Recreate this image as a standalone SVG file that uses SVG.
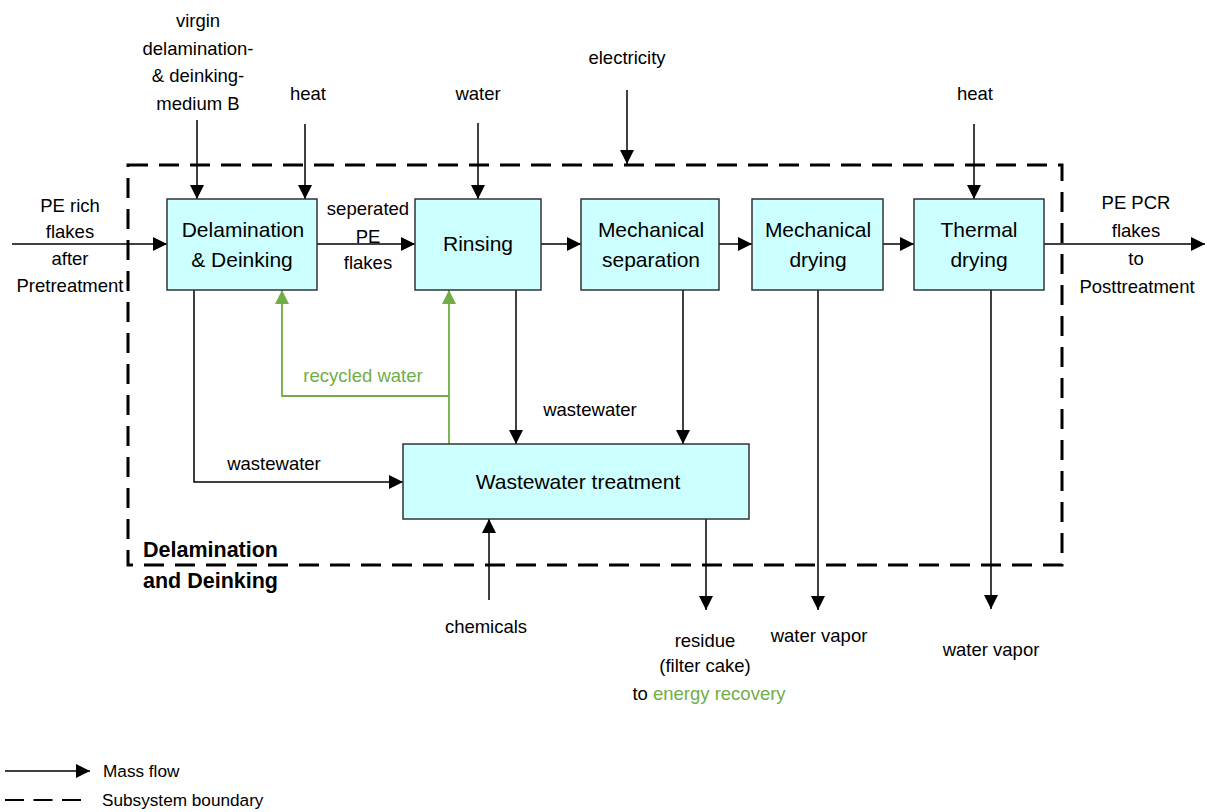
<svg xmlns="http://www.w3.org/2000/svg" width="1207" height="812" viewBox="0 0 1207 812">
<style>
text{font-family:"Liberation Sans",Arial,sans-serif;fill:#000}
.lbl{font-size:18.5px;text-anchor:middle}
.box{fill:#ccffff;stroke:#333;stroke-width:1.5}
.bt{font-size:21px;text-anchor:middle}
.flow{fill:none;stroke:#000;stroke-width:1.5;marker-end:url(#ah)}
.rec{fill:none;stroke:#71ad47;stroke-width:1.8;marker-end:url(#ahg)}
.bnd{fill:none;stroke:#000;stroke-width:3;stroke-dasharray:20 11}
.green{fill:#71ad47}
.bold{font-size:21.5px;font-weight:bold}
.leg{font-size:17.2px}
</style>
<defs>
<marker id="ah" markerUnits="userSpaceOnUse" markerWidth="15" markerHeight="15" refX="14" refY="7" orient="auto"><path d="M0,0 L14,7 L0,14 z" fill="#000"/></marker>
<marker id="ahg" markerUnits="userSpaceOnUse" markerWidth="15" markerHeight="15" refX="14" refY="7" orient="auto"><path d="M0,0 L14,7 L0,14 z" fill="#71ad47"/></marker>
</defs>
<rect width="1207" height="812" fill="#fff"/>
<rect class="bnd" x="128" y="165" width="934" height="400"/>
<g id="connectors">
<path class="flow" d="M12,244 H167"/>
<path class="flow" d="M317,244 H415"/>
<path class="flow" d="M541,244 H581"/>
<path class="flow" d="M719,244 H752"/>
<path class="flow" d="M883,244 H914"/>
<path class="flow" d="M1044,244 H1205"/>
<path class="flow" d="M197,120 V199"/>
<path class="flow" d="M305,124 V199"/>
<path class="flow" d="M478,123 V199"/>
<path class="flow" d="M627,90 V164"/>
<path class="flow" d="M974,124 V199"/>
<path class="flow" d="M194,290 V482 H403"/>
<path class="flow" d="M516,290 V444"/>
<path class="flow" d="M683,290 V444"/>
<path class="flow" d="M489,600 V519"/>
<path class="flow" d="M706,519 V610"/>
<path class="flow" d="M818,290 V610"/>
<path class="flow" d="M991,290 V609"/>
<path class="rec" d="M449,444 V290"/>
<path class="rec" d="M449,396 H282 V290"/>
</g>
<g id="n-delam"><rect class="box" x="167" y="199" width="150" height="91"/><text class="bt" x="243" y="237">Delamination</text><text class="bt" x="242" y="267">&amp; Deinking</text></g>
<g id="n-rinse"><rect class="box" x="415" y="199" width="126" height="91"/><text class="bt" x="478" y="251">Rinsing</text></g>
<g id="n-mechsep"><rect class="box" x="581" y="199" width="138" height="91"/><text class="bt" x="651" y="237">Mechanical</text><text class="bt" x="651" y="267">separation</text></g>
<g id="n-mechdry"><rect class="box" x="752" y="199" width="131" height="91"/><text class="bt" x="818" y="237">Mechanical</text><text class="bt" x="818" y="267">drying</text></g>
<g id="n-thermal"><rect class="box" x="914" y="199" width="130" height="91"/><text class="bt" x="979" y="237">Thermal</text><text class="bt" x="979" y="267">drying</text></g>
<g id="n-wwt"><rect class="box" x="403" y="444" width="346" height="75"/><text class="bt" x="578" y="489">Wastewater treatment</text></g>
<g id="labels">
<text class="lbl" x="198" y="27">virgin</text>
<text class="lbl" x="198" y="55">delamination-</text>
<text class="lbl" x="198" y="82">&amp; deinking-</text>
<text class="lbl" x="198" y="110">medium B</text>
<text class="lbl" x="308" y="100">heat</text>
<text class="lbl" x="478" y="100">water</text>
<text class="lbl" x="627" y="64">electricity</text>
<text class="lbl" x="975" y="100">heat</text>
<text class="lbl" x="70" y="212">PE rich</text>
<text class="lbl" x="70" y="238">flakes</text>
<text class="lbl" x="70" y="265">after</text>
<text class="lbl" x="70" y="292">Pretreatment</text>
<text class="lbl" x="368" y="215">seperated</text>
<text class="lbl" x="368" y="243">PE</text>
<text class="lbl" x="368" y="269">flakes</text>
<text class="lbl" x="1136" y="209">PE PCR</text>
<text class="lbl" x="1136" y="237">flakes</text>
<text class="lbl" x="1136" y="265">to</text>
<text class="lbl" x="1137" y="293">Posttreatment</text>
<text class="lbl green" x="363" y="382">recycled water</text>
<text class="lbl" x="590" y="416">wastewater</text>
<text class="lbl" x="274" y="470">wastewater</text>
<text class="bold" x="143" y="557">Delamination</text>
<text class="bold" x="143" y="588">and Deinking</text>
<text class="lbl" x="486" y="633">chemicals</text>
<text class="lbl" x="705" y="647">residue</text>
<text class="lbl" x="705" y="672">(filter cake)</text>
<text class="lbl" x="709" y="700">to <tspan class="green">energy recovery</tspan></text>
<text class="lbl" x="819" y="642">water vapor</text>
<text class="lbl" x="991" y="656">water vapor</text>
</g>
<g id="legend">
<path class="flow" d="M5,771 H90"/>
<text class="leg" x="103" y="777">Mass flow</text>
<path d="M5,800 H81" fill="none" stroke="#000" stroke-width="2" stroke-dasharray="19 9.5"/>
<text class="leg" x="102" y="806">Subsystem boundary</text>
</g>
</svg>
